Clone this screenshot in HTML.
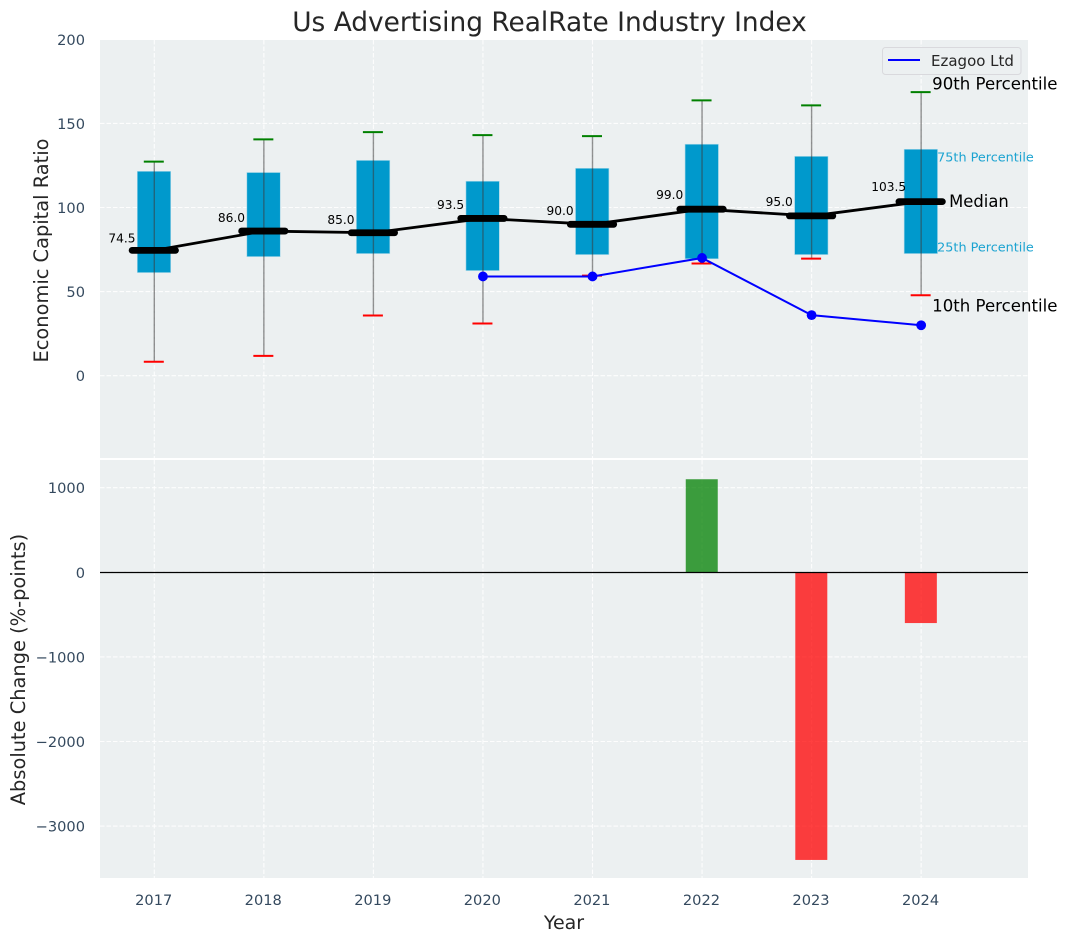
<!DOCTYPE html>
<html lang="en">
<head>
<meta charset="utf-8">
<title>Us Advertising RealRate Industry Index</title>
<style>
html,body{margin:0;padding:0;background:#fff;}
svg{display:block;font-family:"DejaVu Sans","Liberation Sans",sans-serif;}
</style>
</head>
<body>
<svg id="chart" xmlns="http://www.w3.org/2000/svg" width="1067" height="942" viewBox="0 0 1067 942"></svg>
<script>
const years = [2017, 2018, 2019, 2020, 2021, 2022, 2023, 2024];
const p10 = [8.3, 11.8, 35.8, 31, 59.5, 66.7, 69.6, 47.8];
const p25 = [61.3, 70.8, 72.6, 62.5, 72, 69.5, 72, 72.6];
const medians = [74.5, 86, 85, 93.5, 90, 99, 95, 103.5];
const p75 = [121.5, 120.8, 128, 115.6, 123.3, 137.6, 130.4, 134.6];
const p90 = [127.3, 140.5, 144.8, 143, 142.4, 163.7, 160.7, 168.6];
const companyYears = [2020, 2021, 2022, 2023, 2024];
const companyValues = [59, 59, 70, 36, 30];
const changeYears = [2022, 2023, 2024];
const changeValues = [1100, -3400, -600];
const topTicks = [0, 50, 100, 150, 200];
const bottomTicks = [-3000, -2000, -1000, 0, 1000];

const svg = document.getElementById('chart');
const NS = 'http://www.w3.org/2000/svg';
const X0 = 100, X1 = 1028, T0 = 40, T1 = 458, B0 = 460, B1 = 878;
const x = v => 154.3 + (v - 2017) * 109.55;
const yTop = v => 375.7 - v * 1.682;
const yBot = v => 572.3 - v * 0.0846;

function add(tag, attrs, parent) {
  const el = document.createElementNS(NS, tag);
  for (const k in attrs) el.setAttribute(k, attrs[k]);
  (parent || svg).appendChild(el);
  return el;
}
function label(content, attrs, parent) {
  const el = add('text', attrs, parent);
  el.textContent = content;
  return el;
}
const fmt = v => String(v).replace('-', '\u2212');
const gridStyle = {stroke: '#ffffff', 'stroke-width': 1.1, 'stroke-dasharray': '4.5 2', opacity: 0.9};

/* panels */
const topBg = add('rect', {x: X0, y: T0, width: X1 - X0, height: T1 - T0, fill: '#ecf0f1'});


const botBg = add('rect', {x: X0, y: B0, width: X1 - X0, height: B1 - B0, fill: '#ecf0f1'});



/* grids and x ticks */
years.forEach(function (yr) {
  const g1 = add('line', Object.assign({x1: x(yr), x2: x(yr), y1: T0, y2: T1}, gridStyle));
  
  
  const g2 = add('line', Object.assign({x1: x(yr), x2: x(yr), y1: B0, y2: B1}, gridStyle));
  
  
  const t = label(yr, {x: x(yr) - 0.6, y: 905, 'text-anchor': 'middle', 'font-size': 14.6, fill: '#34495e'});
  
  
});
topTicks.forEach(function (v) {
  if (v !== 200) {
    const g = add('line', Object.assign({x1: X0, x2: X1, y1: yTop(v), y2: yTop(v)}, gridStyle));
    
    
  }
  const t = label(fmt(v), {x: 85, y: yTop(v) + 5.5, 'text-anchor': 'end', 'font-size': 14.6, fill: '#34495e'});
  
  
});
bottomTicks.forEach(function (v) {
  const g = add('line', Object.assign({x1: X0, x2: X1, y1: yBot(v), y2: yBot(v)}, gridStyle));
  
  
  const t = label(fmt(v), {x: 85, y: yBot(v) + 5.5, 'text-anchor': 'end', 'font-size': 14.6, fill: '#34495e'});
  
  
});

/* boxes, whiskers, caps */
years.forEach(function (yr, i) {
  const cx = x(yr) - 0.5;
  const box = add('rect', {x: cx - 16.5, y: yTop(p75[i]), width: 33.4, height: yTop(p25[i]) - yTop(p75[i]), fill: '#0099cc', stroke: '#a8d8e8', 'stroke-width': 0.6});
  
  
  const w = add('line', {x1: x(yr), x2: x(yr), y1: yTop(p90[i]), y2: yTop(p10[i]), stroke: '#3a3a3a', 'stroke-opacity': 0.55, 'stroke-width': 1.4});
  
  
  const capHi = add('line', {x1: cx - 10, x2: cx + 10, y1: yTop(p90[i]), y2: yTop(p90[i]), stroke: '#008000', 'stroke-width': 2});
  
  
  const capLo = add('line', {x1: cx - 10, x2: cx + 10, y1: yTop(p10[i]), y2: yTop(p10[i]), stroke: '#ff0000', 'stroke-width': 2});
  
  
});

/* median trend */
const medianLine = add('polyline', {points: years.map(function (yr, i) { return x(yr) + ',' + yTop(medians[i]); }).join(' '), fill: 'none', stroke: '#000', 'stroke-width': 2.8});


years.forEach(function (yr, i) {
  const cx = x(yr) - 0.5;
  const m = add('line', {x1: cx - 21.7, x2: cx + 21.7, y1: yTop(medians[i]), y2: yTop(medians[i]), stroke: '#000', 'stroke-width': 6.8, 'stroke-linecap': 'round'});
  
  
  const t = label(medians[i].toFixed(1), {x: x(yr) - 32.4, y: yTop(medians[i]) - (1.8 + 0.084 * medians[i]), 'text-anchor': 'middle', 'font-size': 12.2, fill: '#000'});
  
  
});

/* company series */
const companyLine = add('polyline', {points: companyYears.map(function (yr, i) { return x(yr) + ',' + yTop(companyValues[i]); }).join(' '), fill: 'none', stroke: '#0000ff', 'stroke-width': 2});


companyYears.forEach(function (yr, i) {
  const pt = add('circle', {cx: x(yr), cy: yTop(companyValues[i]), r: 4.9, fill: '#0000ff'});
  
  
});

/* percentile annotations, anchored on the last year */
const last = years.length - 1;
const lastX = x(years[last]);
const a90 = label('90th Percentile', {x: lastX + 11, y: yTop(p90[last]) - 2.5, 'font-size': 16.6, fill: '#000'});


const a75 = label('75th Percentile', {x: lastX + 16, y: yTop(p75[last]) + 12, 'font-size': 12.8, fill: '#1ba3d1'});


const aMed = label('Median', {x: lastX + 28, y: yTop(medians[last]) + 5.5, 'font-size': 16.4, fill: '#000'});


const a25 = label('25th Percentile', {x: lastX + 16, y: yTop(p25[last]) - 2, 'font-size': 12.8, fill: '#1ba3d1'});


const a10 = label('10th Percentile', {x: lastX + 11, y: yTop(p10[last]) + 16, 'font-size': 16.6, fill: '#000'});



/* legend */
const legend = add('g', {});


const legendBox = add('rect', {x: 882.5, y: 47.5, width: 138.5, height: 27, rx: 3, fill: '#ecf0f1', stroke: '#d9d9dd', 'stroke-width': 1}, legend);


const legendKey = add('line', {x1: 888, x2: 920, y1: 60, y2: 60, stroke: '#0000ff', 'stroke-width': 2}, legend);


const legendText = label('Ezagoo Ltd', {x: 931, y: 66, 'font-size': 15, fill: '#262626'}, legend);



/* change bars */
changeYears.forEach(function (yr, i) {
  const v = changeValues[i];
  const top = Math.min(yBot(v), yBot(0));
  const bar = add('rect', {x: x(yr) - 16.3, y: top, width: 32, height: Math.abs(yBot(v) - yBot(0)), fill: v >= 0 ? '#008000' : '#ff0000', 'fill-opacity': 0.75});
  
  
});
const zero = add('line', {x1: X0, x2: X1, y1: 572.5, y2: 572.5, stroke: '#000', 'stroke-width': 1.2});



/* titles */
const title = label('Us Advertising RealRate Industry Index', {x: 549.5, y: 31, 'text-anchor': 'middle', 'font-size': 26.4, fill: '#262626'});


const yt1 = label('Economic Capital Ratio', {transform: 'translate(48,250.5) rotate(-90)', 'text-anchor': 'middle', 'font-size': 19.4, fill: '#262626'});


const yt2 = label('Absolute Change (%-points)', {transform: 'translate(25,669.5) rotate(-90)', 'text-anchor': 'middle', 'font-size': 19.4, fill: '#262626'});


const xt = label('Year', {x: 564, y: 929, 'text-anchor': 'middle', 'font-size': 19, fill: '#262626'});


</script>
</body>
</html>
